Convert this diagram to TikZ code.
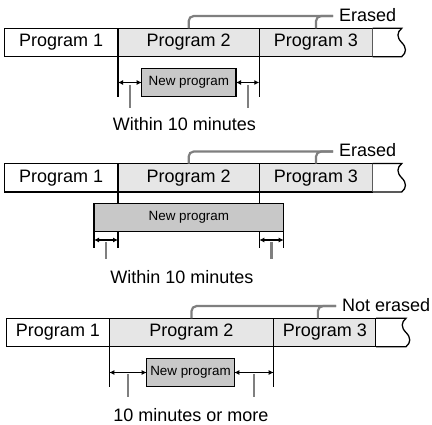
\documentclass[tikz,border=0pt]{standalone}
\usepackage{fontspec}
\setmainfont{Liberation Sans}
\usetikzlibrary{arrows.meta,positioning,calc}
\definecolor{cellgrey}{HTML}{E6E6E6}
\definecolor{newgrey}{HTML}{C8C8C8}
\definecolor{brgrey}{HTML}{7F7F7F}
\tikzset{
  cell/.style={draw=black, fill=white, line width=1.3pt, outer sep=0pt, inner sep=0pt,
               minimum height=28.4pt, font=\fontsize{18}{20}\selectfont},
  cellgr/.style={cell, fill=cellgrey},
  newbox/.style={draw=black, fill=newgrey, line width=1.3pt, outer sep=0pt, inner sep=0pt,
                 minimum height=28.4pt, font=\fontsize{13.4}{15}\selectfont},
  edge/.style={line width=1.3pt, draw=black},
  gap/.style={{Latex[length=5pt,width=5pt]}-{Latex[length=5pt,width=5pt]}, line width=1.1pt},
  gapbold/.style={gap, line width=1.6pt},
  tick/.style={line width=2.2pt, draw=brgrey},
  brace/.style={line width=2.2pt, draw=brgrey, rounded corners=5pt},
  lbl/.style={font=\fontsize{18}{20}\selectfont, inner sep=0pt}
}

\begin{document}
\begin{tikzpicture}[x=1pt,y=-1pt]
  \useasboundingbox (0,0) rectangle (432,425);

  % top: within 10 minutes, inside program 2
  \node[cell, minimum width=113.7pt, anchor=west] (pa1) at (4.3,42.5) {Program 1};
  \node[cellgr, minimum width=141.3pt, right=0pt of pa1] (pa2) {Program 2};
  \node[cellgr, minimum width=113.4pt, right=0pt of pa2] (pa3) {Program 3};
  \draw[edge, fill=white] (pa3.north east) -- ++(29,0)
     .. controls +(-5,4) and +(-5,-5) .. ++(0,14.2)
     .. controls +(5,5) and +(5,-4) .. ++(0,14.2) -- (pa3.south east);
  \node[lbl, anchor=base west] (era) at (339,21.5) {Erased};
  \draw[brace] (pa2.north) |- ([xshift=-6pt, yshift=-1pt]era.west);
  \draw[brace] (pa3.north) |- ([xshift=-6pt, yshift=-1pt]era.west);

  \node[newbox, minimum width=94.3pt] (np1) at (188.85,82.5) {New program};
  \draw[edge] (pa1.south east) -- (pa1.south east |- np1.south);
  \draw[edge] (pa2.south east) -- (pa2.south east |- np1.south);
  \draw[gap] (pa1.south east |- np1.west) -- (np1.west);
  \draw[gap] (np1.east) -- (pa2.south east |- np1.east);
  \draw[tick] ($(pa1.south east |- np1.west)!0.5!(np1.west)$) ++(0,2.5) -- ++(0,23);
  \draw[tick] ($(pa2.south east |- np1.east)!0.5!(np1.east)$) ++(0,2.5) -- ++(0,23);
  \node[lbl, anchor=base] (wia) at (184.5,131) {Within 10 minutes};

  % middle: within 10 minutes, longer than program 2
  \node[cell, minimum width=113.7pt, anchor=west] (pb1) at (4.3,177.8) {Program 1};
  \node[cellgr, minimum width=141.3pt, right=0pt of pb1] (pb2) {Program 2};
  \node[cellgr, minimum width=113.4pt, right=0pt of pb2] (pb3) {Program 3};
  \draw[edge, fill=white] (pb3.north east) -- ++(29,0)
     .. controls +(-5,4) and +(-5,-5) .. ++(0,14.2)
     .. controls +(5,5) and +(5,-4) .. ++(0,14.2) -- (pb3.south east);
  \node[lbl, anchor=base west] (erb) at (339,157) {Erased};
  \draw[brace] (pb2.north) |- ([xshift=-6pt, yshift=-1pt]erb.west);
  \draw[brace] (pb3.north) |- ([xshift=-6pt, yshift=-1pt]erb.west);

  \node[newbox, minimum width=189.7pt] (np2) at (188.85,217.5) {New program};
  \draw[edge] (pb1.south east) -- (pb1.south east |- np2.north);
  \draw[edge] (pb2.south east) -- (pb2.south east |- np2.north);
  \draw[edge] (np2.south west) -- ++(0,16.3);
  \draw[edge] (pb1.south east |- np2.south) -- ++(0,16.3);
  \draw[edge] (pb2.south east |- np2.south) -- ++(0,16.3);
  \draw[edge] (np2.south east) -- ++(0,16.3);
  \draw[gap] ($(np2.south west)+(0,8.3)$) -- ($(pb1.south east |- np2.south)+(0,8.3)$);
  \draw[gap] ($(pb2.south east |- np2.south)+(0,8.3)$) -- ($(np2.south east)+(0,8.3)$);
  \draw[tick] ($(np2.south west)!0.5!(pb1.south east |- np2.south)$) ++(0,10.5) -- ++(0,17);
  \draw[tick] ($(np2.south east)!0.5!(pb2.south east |- np2.south)$) ++(0,10.5) -- ++(0,17);
  \node[lbl, anchor=base] (wib) at (182,283.5) {Within 10 minutes};

  % bottom: 10 minutes or more
  \node[cell, minimum width=102.6pt, anchor=west] (pc1) at (6.7,332.5) {Program 1};
  \node[cellgr, minimum width=164.4pt, right=0pt of pc1] (pc2) {Program 2};
  \node[cellgr, minimum width=102.3pt, right=0pt of pc2] (pc3) {Program 3};
  \draw[edge, fill=white] (pc3.north east) -- ++(30,0)
     .. controls +(-5,4) and +(-5,-5) .. ++(0,14.2)
     .. controls +(5,5) and +(5,-4) .. ++(0,14.2) -- (pc3.south east);
  \node[lbl, anchor=base west] (erc) at (342,311.5) {Not erased};
  \draw[brace] (pc2.north) |- ([xshift=-6pt, yshift=-1pt]erc.west);
  \draw[brace] ([xshift=-7pt]pc3.north) |- ([xshift=-6pt, yshift=-1pt]erc.west);

  \node[newbox, minimum width=87.6pt] (np3) at (190.5,372.5) {New program};
  \draw[edge] (pc1.south east) -- (pc1.south east |- np3.south);
  \draw[edge] (pc2.south east) -- (pc2.south east |- np3.south);
  \draw[gapbold] (pc1.south east |- np3.west) -- (np3.west);
  \draw[gapbold] (np3.east) -- (pc2.south east |- np3.east);
  \draw[tick] ($(pc1.south east |- np3.west)!0.5!(np3.west)$) ++(0,2) -- ++(0,22.5);
  \draw[tick] ($(pc2.south east |- np3.east)!0.5!(np3.east)$) ++(0,2) -- ++(0,22.5);
  \node[lbl, anchor=base] (tmc) at (191,421.7) {10 minutes or more};
\end{tikzpicture}
\end{document}
